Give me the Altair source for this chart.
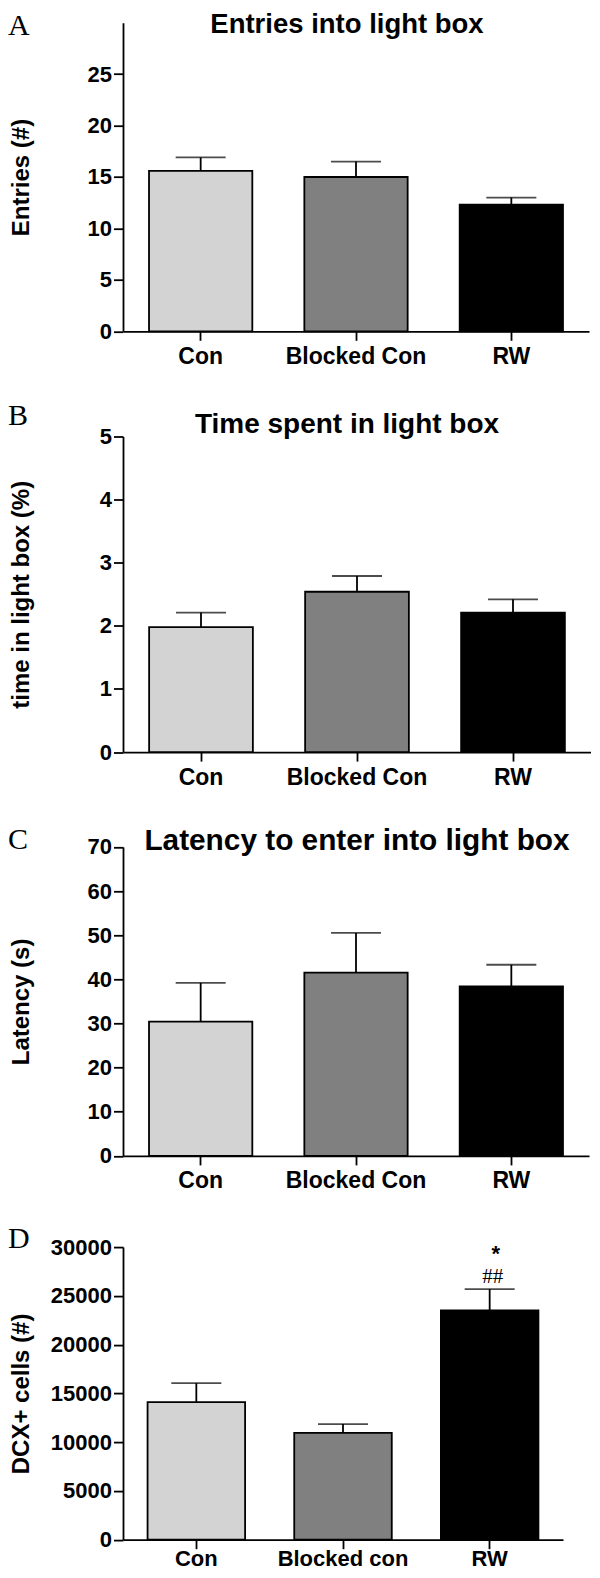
import altair as alt
import pandas as pd

# ---------------- data ----------------
groups_abc = ["Con", "Blocked Con", "RW"]
groups_d = ["Con", "Blocked con", "RW"]
bar_fills = ["#d3d3d3", "#808080", "#000000"]

entries_mean = [15.6, 15.0, 12.3]
entries_upper = [16.9, 16.5, 13.0]

time_mean = [1.98, 2.54, 2.21]
time_upper = [2.21, 2.79, 2.42]

latency_mean = [30.4, 41.5, 38.4]
latency_upper = [39.2, 50.5, 43.3]

dcx_mean = [14100, 10950, 23500]
dcx_upper = [16050, 11850, 25700]

entries_ticks = [0, 5, 10, 15, 20, 25]
time_ticks = [0, 1, 2, 3, 4, 5]
latency_ticks = [0, 10, 20, 30, 40, 50, 60, 70]
dcx_ticks = [0, 5000, 10000, 15000, 20000, 25000, 30000]

FONT = "Liberation Sans"
SERIF = "Liberation Serif"
LW = 1.8
LEFT = -115


def panel(groups, means, uppers, ytitle, ydomain, yticks, width, height, top,
          letter, letter_y, title=None, title_x=0, title_y=0, title_size=26,
          notes=None, xlabel_pad=5, xlabel_size=23):
    df = pd.DataFrame({"group": groups, "mean": means, "upper": uppers,
                       "fill": bar_fills})
    xenc = alt.X(
        "group:N", sort=groups,
        scale=alt.Scale(paddingInner=0, paddingOuter=0),
        axis=alt.Axis(title=None, labelAngle=0, labelFont=FONT,
                      labelFontSize=xlabel_size, labelFontWeight="bold",
                      labelColor="black", labelPadding=xlabel_pad, tickSize=9,
                      tickColor="black", tickWidth=LW, domainColor="black",
                      domainWidth=LW, grid=False),
    )
    yscale = alt.Scale(domain=ydomain, range=[height, top], nice=False)
    yaxis = alt.Axis(
        title=ytitle, values=yticks, format="d", grid=False,
        labelFont=FONT, labelFontSize=22, labelFontWeight="bold",
        labelColor="black", labelPadding=2, labelFlush=False,
        tickSize=9.5, tickColor="black", tickWidth=LW,
        domainColor="black", domainWidth=LW,
        titleFont=FONT, titleFontSize=24, titleFontWeight="bold",
        titleColor="black", titleAngle=270, titleAlign="center",
        titleBaseline="middle", titleX=LEFT + 13, titleY=(height + top) / 2,
    )
    ymean = alt.Y("mean:Q", scale=yscale, axis=yaxis)
    base = alt.Chart(df)
    rule = base.mark_rule(color="black", strokeWidth=LW).encode(
        x=xenc, y=ymean, y2="upper:Q")
    cap = base.mark_tick(color="black", thickness=LW, size=50,
                         orient="horizontal").encode(
        x=xenc, y=alt.Y("upper:Q", scale=yscale, axis=yaxis))
    bars = base.mark_bar(stroke="black", strokeWidth=LW,
                         width=alt.RelativeBandSize(0.665)).encode(
        x=xenc, y=ymean, color=alt.Color("fill:N", scale=None))
    layers = [rule, cap, bars]
    letter_df = pd.DataFrame({"t": [letter]})
    layers.append(
        alt.Chart(letter_df).mark_text(
            font=SERIF, fontSize=30, align="left", baseline="alphabetic",
            color="black").encode(
            x=alt.value(LEFT), y=alt.value(letter_y), text="t:N"))
    if title:
        title_df = pd.DataFrame({"t": [title]})
        layers.append(
            alt.Chart(title_df).mark_text(
                font=FONT, fontSize=title_size, fontWeight="bold",
                align="center", baseline="alphabetic", color="black").encode(
                x=alt.value(title_x), y=alt.value(title_y), text="t:N"))
    if notes:
        for txt, font, size, weight, dx, dy in notes:
            ndf = pd.DataFrame({"group": [groups[2]], "upper": [uppers[2]],
                                "t": [txt]})
            layers.append(
                alt.Chart(ndf).mark_text(
                    font=font, fontSize=size, fontWeight=weight,
                    align="center", baseline="alphabetic", color="black",
                    dx=dx, dy=dy).encode(
                    x=xenc, y=alt.Y("upper:Q", scale=yscale, axis=yaxis),
                    text="t:N"))
    return alt.layer(*layers).properties(width=width, height=height)


pa = panel(groups_abc, entries_mean, entries_upper, "Entries (#)", [0, 30],
           entries_ticks, 466, 308.6, 0, "A", 12,
           title="Entries into light box", title_x=224, title_y=10.3,
           title_size=27.5)
pb = panel(groups_abc, time_mean, time_upper, "time in light box (%)", [0, 5],
           time_ticks, 468, 329.6, 14, "B", 3,
           title="Time spent in light box", title_x=224, title_y=10.3,
           title_size=28)
pc = panel(groups_abc, latency_mean, latency_upper, "Latency (s)", [0, 70],
           latency_ticks, 466, 312.6, 3.6, "C", 6,
           title="Latency to enter into light box", title_x=234,
           title_y=6.6, title_size=29.8)
pd_ = panel(groups_d, dcx_mean, dcx_upper, "DCX+ cells (#)", [0, 30000],
            dcx_ticks, 440, 292.6, 0, "D", 1,
            notes=[("##", SERIF, 21, "normal", 3, -6.2),
                   ("*", FONT, 22, "bold", 6, -28.5)],
            xlabel_pad=0, xlabel_size=22)

chart = alt.vconcat(pa, pb, pc, pd_, spacing=90.8, bounds="flush").properties(
    padding={"top": 2.7, "left": 0, "right": 0, "bottom": 0},
    background="white",
).configure_view(stroke=None)

chart.save("out.html", embed_options={"renderer": "svg", "actions": False})
